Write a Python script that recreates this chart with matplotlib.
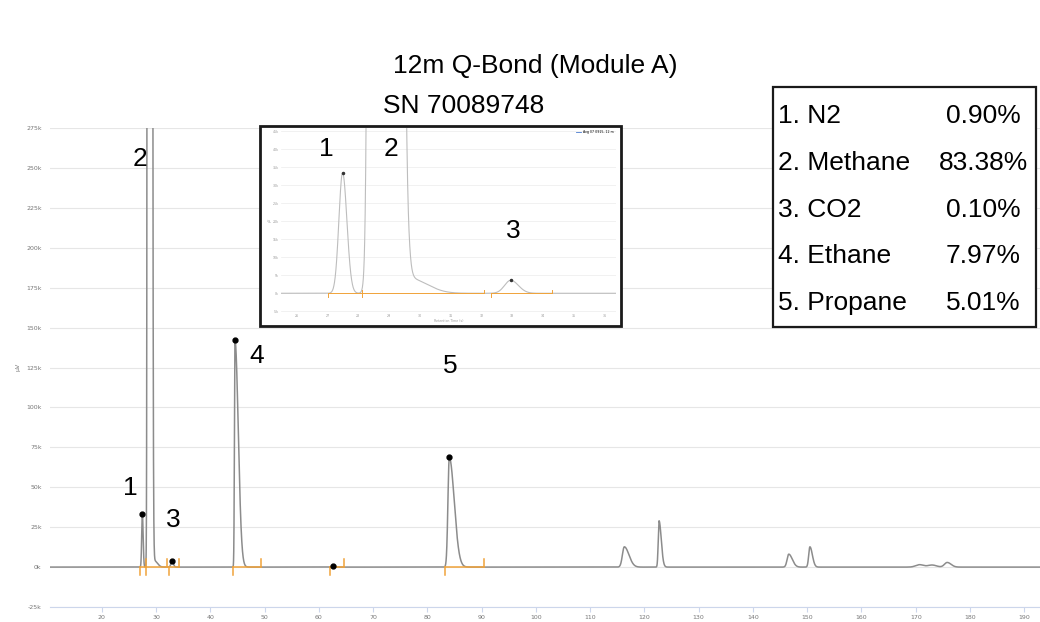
import matplotlib
matplotlib.use("Agg")
import matplotlib.pyplot as plt
import numpy as np
from matplotlib.lines import Line2D
from matplotlib.patches import Rectangle

W, H = 1040, 622

# detected peaks: retention time (s), apex height (uV), left / right widths
peak_rt = [27.49, 28.74, 29.70, 32.95, 44.56, 62.68, 84.05,
           116.3, 122.7, 146.6, 150.5, 170.7, 173.0, 175.8]
peak_height = [33500, 2.0e7, 4000, 3600, 142000, 800, 68700,
               12700, 29000, 8100, 12700, 1500, 1300, 2900]
sigma_left = [0.12, 0.14, 0.10, 0.20, 0.10, 0.30, 0.25,
              0.35, 0.15, 0.30, 0.22, 0.70, 0.80, 0.50]
sigma_right = [0.14, 0.238, 0.55, 0.25, 0.60, 0.30, 0.90,
               0.85, 0.40, 0.65, 0.45, 0.70, 0.80, 0.70]

# apex markers
marked_rt = [27.49, 32.95, 44.56, 62.68, 84.05]
marked_height = [33500, 3600, 142000, 800, 68700]

# integration windows
integ_start = [27.03, 28.11, 32.31, 44.25, 62.10, 83.30]
integ_end = [28.11, 32.09, 34.30, 49.35, 64.70, 90.50]

# peak number labels (main plot, inset)
label_text = ["1", "2", "3", "4", "5"]
label_rt = [25.21, 27.06, 33.14, 48.62, 84.18]
label_height = [49400, 255600, 29400, 132500, 126000]
inset_label_text = ["1", "2", "3"]
inset_label_rt = [26.97, 29.06, 33.03]
inset_label_height = [40100, 40100, 17300]

components = ["1. N2", "2. Methane", "3. CO2", "4. Ethane", "5. Propane"]
percentages = ["0.90%", "83.38%", "0.10%", "7.97%", "5.01%"]

main_yticks = list(range(-25000, 275001, 25000))
main_xticks = list(range(20, 191, 10))
inset_yticks = list(range(-5000, 45001, 5000))
inset_xticks = list(range(26, 37))

TRACE = "#8c8c8c"
ORANGE = "#f0a33a"
GRID = "#e6e6e6"
AXIS = "#ccd6eb"
LABEL = "#777777"
BIG = "Liberation Sans"


def trace(t):
    y = np.zeros_like(t)
    for rt, h, sl, sr in zip(peak_rt, peak_height, sigma_left, sigma_right):
        s = np.where(t < rt, sl, sr)
        y += h * np.exp(-0.5 * ((t - rt) / s) ** 2)
    return y


def box(x0, y0, x1, y1):
    return [x0 / W, 1 - y1 / H, (x1 - x0) / W, (y1 - y0) / H]


def integration(ax, tick, lw):
    for s, e in zip(integ_start, integ_end):
        ax.plot([s, e], [0, 0], color=ORANGE, lw=lw, zorder=4)
        ax.plot([s, s], [0, -tick], color=ORANGE, lw=lw, zorder=4)
        ax.plot([e, e], [0, tick], color=ORANGE, lw=lw, zorder=4)


def kfmt(values):
    return [f"{v // 1000}k" for v in values]


fig = plt.figure(figsize=(W / 100, H / 100), dpi=100)

# ---- main chromatogram
ax = fig.add_axes(box(50, 128, 1040, 607))
t = np.linspace(10.47, 192.9, 40000)
ax.plot(t, trace(t), color=TRACE, lw=1.1, zorder=3)
integration(ax, 5000, 1.1)
ax.plot(marked_rt, marked_height, "o", color="black", ms=3.5, zorder=5)
ax.set_xlim(10.47, 192.9)
ax.set_ylim(-25000, 275000)
ax.set_xticks(main_xticks)
ax.set_yticks(main_yticks)
ax.set_yticklabels(kfmt(main_yticks))
ax.yaxis.grid(True, color=GRID, lw=0.8)
ax.set_axisbelow(True)
for side in ["top", "right", "left"]:
    ax.spines[side].set_visible(False)
ax.spines["bottom"].set_color(AXIS)
ax.tick_params(axis="x", length=3.5, width=0.8, color=AXIS, labelsize=4.5,
               labelcolor=LABEL, pad=2.5)
ax.tick_params(axis="y", length=0, labelsize=4.5, labelcolor=LABEL, pad=6)
for txt, x, y in zip(label_text, label_rt, label_height):
    ax.text(x, y, txt, fontsize=19, family=BIG, ha="center", va="center", zorder=6)
fig.text(18 / W, 1 - 367 / H, "µV", rotation=90, fontsize=4.5, color=LABEL,
         ha="center", va="center")

# ---- titles
fig.text(393 / W, 1 - 66 / H, "12m Q-Bond (Module A)", fontsize=19, family=BIG,
         ha="left", va="center")
fig.text(383 / W, 1 - 106 / H, "SN 70089748", fontsize=19, family=BIG,
         ha="left", va="center")

# ---- inset frame and zoomed view
x0, y0, x1, y1 = box(260, 126, 621, 326)
fig.patches.append(Rectangle((x0, y0), x1, y1, transform=fig.transFigure,
                             facecolor="white", edgecolor="#1a1a1a", lw=2, zorder=1))
ins = fig.add_axes(box(281, 128, 616, 312))
ins.set_zorder(2)
ti = np.linspace(25.4, 36.5, 6000)
ins.plot(ti, trace(ti), color="#bdbdbd", lw=0.8, zorder=3)
integration(ins, 1000, 0.7)
ins.plot(marked_rt[:2], marked_height[:2], "o", color="#333333", ms=1.5, zorder=5)
ins.set_xlim(25.49, 36.37)
ins.set_ylim(-5200, 45900)
ins.set_xticks(inset_xticks)
ins.set_yticks(inset_yticks)
ins.set_yticklabels(kfmt(inset_yticks))
ins.yaxis.grid(True, color="#ececec", lw=0.5)
ins.set_axisbelow(True)
for side in ["top", "right", "left", "bottom"]:
    ins.spines[side].set_visible(False)
ins.tick_params(length=0, labelsize=2.3, labelcolor="#999999", pad=1.5)
ins.set_xlabel("Retention Time (s)", fontsize=2.3, color="#999999", labelpad=1)
ins.set_ylabel("µV", fontsize=2.3, color="#999999", labelpad=1)
ins.legend(handles=[Line2D([], [], color="#4a7bd0", lw=0.6)],
           labels=["Avg 07 0915, 12 m"], loc="upper right", fontsize=2.3,
           frameon=False, handlelength=1.5, borderaxespad=0.2)
for txt, x, y in zip(inset_label_text, inset_label_rt, inset_label_height):
    ins.text(x, y, txt, fontsize=19, family=BIG, ha="center", va="center", zorder=6)

# ---- composition table
x0, y0, x1, y1 = box(773, 87, 1036, 327)
fig.patches.append(Rectangle((x0, y0), x1, y1, transform=fig.transFigure,
                             facecolor="white", edgecolor="#1a1a1a", lw=1.6, zorder=1))
row_y = [116, 163, 210, 256, 303]
for name, pct, y in zip(components, percentages, row_y):
    fig.text(778 / W, 1 - y / H, name, fontsize=19, family=BIG, ha="left",
             va="center", zorder=3)
    fig.text(983 / W, 1 - y / H, pct, fontsize=19, family=BIG, ha="center",
             va="center", zorder=3)

fig.savefig("out.png", dpi=100)
plt.close(fig)
